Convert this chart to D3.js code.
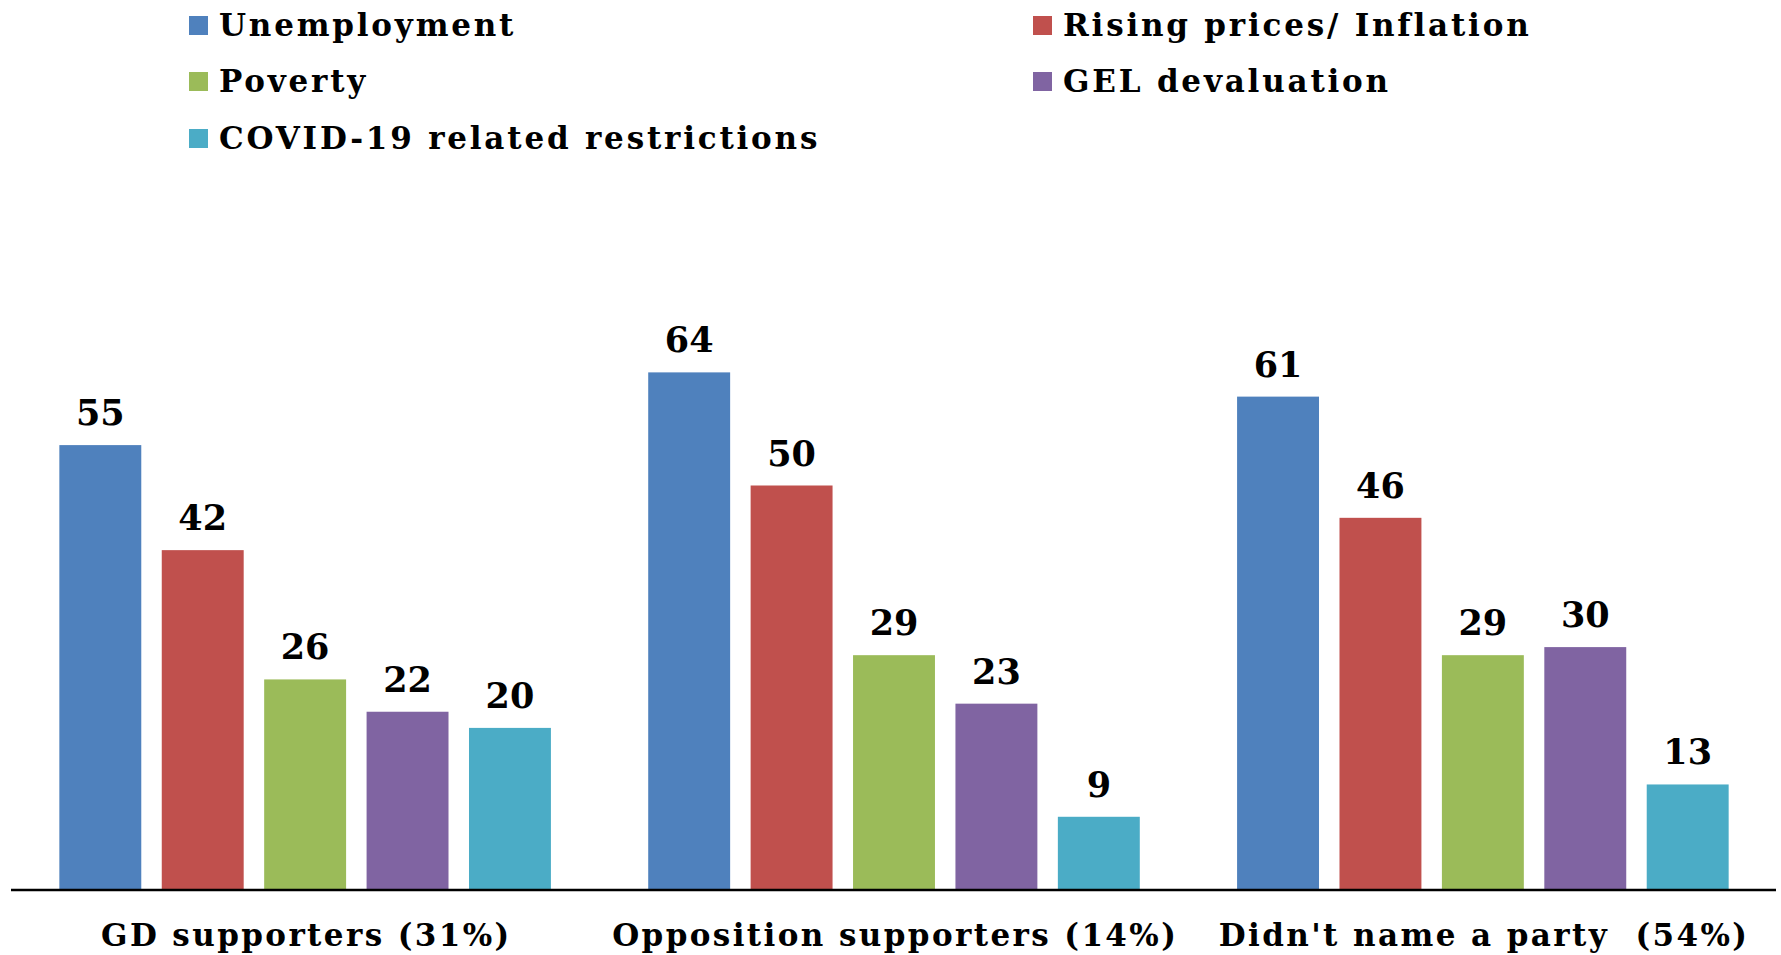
<!DOCTYPE html>
<html>
<head>
<meta charset="utf-8">
<script src="https://cdn.jsdelivr.net/npm/d3@7"></script>
<style>
  html, body { margin: 0; padding: 0; background: #fff; }
  svg { display: block; }
  text { font-family: "DejaVu Serif", serif; font-weight: bold; fill: #000; }
</style>
</head>
<body>
<svg id="chart" width="1781" height="955"></svg>
<script>
var groups = ["GD supporters (31%)", "Opposition supporters (14%)", "Didn't name a party  (54%)"];
var series = ["Unemployment", "Rising prices/ Inflation", "Poverty", "GEL devaluation", "COVID-19 related restrictions"];
var colors = ["#4F81BD", "#C0504D", "#9BBB59", "#8064A2", "#4BACC6"];

var unemployment = [55, 64, 61];
var inflation = [42, 50, 46];
var poverty = [26, 29, 29];
var devaluation = [22, 23, 30];
var covid = [20, 9, 13];

var values = [unemployment, inflation, poverty, devaluation, covid];

var W = 1781, H = 955;
var baseY = 889.5;

var svg = d3.select("#chart");

var x0 = d3.scaleBand().domain(groups).range([10.7, 1777.3]).padding(0);
var x1 = d3.scaleBand().domain(series).range([0, x0.bandwidth()])
    .paddingInner(0.2).paddingOuter(0.475);
var y = d3.scaleLinear().domain([0, 70]).range([baseY, baseY - 70 * 8.08]);
var color = d3.scaleOrdinal().domain(series).range(colors);

// bars
var g = svg.selectAll(".group").data(groups).enter().append("g")
    .attr("class", "group")
    .attr("transform", function(d) { return "translate(" + x0(d) + ",0)"; });

g.selectAll("rect").data(function(d, gi) {
    return series.map(function(s, si) { return {s: s, v: values[si][gi]}; });
}).enter().append("rect")
    .attr("x", function(d) { return x1(d.s); })
    .attr("y", function(d) { return y(d.v); })
    .attr("width", x1.bandwidth())
    .attr("height", function(d) { return baseY - y(d.v); })
    .attr("fill", function(d) { return color(d.s); });

g.selectAll(".lbl").data(function(d, gi) {
    return series.map(function(s, si) { return {s: s, v: values[si][gi]}; });
}).enter().append("text")
    .attr("class", "lbl")
    .attr("x", function(d) { return x1(d.s) + x1.bandwidth() / 2; })
    .attr("y", function(d) { return y(d.v) - 20; })
    .attr("text-anchor", "middle")
    .style("font-size", "35px")
    .text(function(d) { return d.v; });

// axis
var axis = svg.append("g").attr("transform", "translate(0," + baseY + ")")
    .call(d3.axisBottom(x0).tickSize(0).tickPadding(0));
axis.select(".domain").attr("stroke", "#000").attr("stroke-width", 2.5)
    .attr("d", "M11,0.5H1776");
axis.selectAll(".tick text")
    .attr("dy", 0)
    .attr("y", 56)
    .attr("x", 1.2)
    .style("font-size", "31px")
    .style("letter-spacing", "2.4px")
    .style("font-family", "\"DejaVu Serif\", serif")
    .style("font-weight", "bold")
    .style("white-space", "pre")
    .attr("fill", "#000");

// legend
var legendPos = [
    {x: 189, y: 36}, {x: 1033, y: 36},
    {x: 189, y: 92}, {x: 1033, y: 92},
    {x: 189, y: 149}
];
var leg = svg.selectAll(".leg").data(series).enter().append("g")
    .attr("class", "leg")
    .attr("transform", function(d, i) { return "translate(" + legendPos[i].x + "," + legendPos[i].y + ")"; });
leg.append("rect").attr("x", 0).attr("y", -20).attr("width", 19).attr("height", 19)
    .attr("fill", function(d) { return color(d); });
leg.append("text").attr("x", 30).attr("y", 0)
    .style("font-size", "31px")
    .style("letter-spacing", "2.8px")
    .text(function(d) { return d; });
</script>
</body>
</html>
